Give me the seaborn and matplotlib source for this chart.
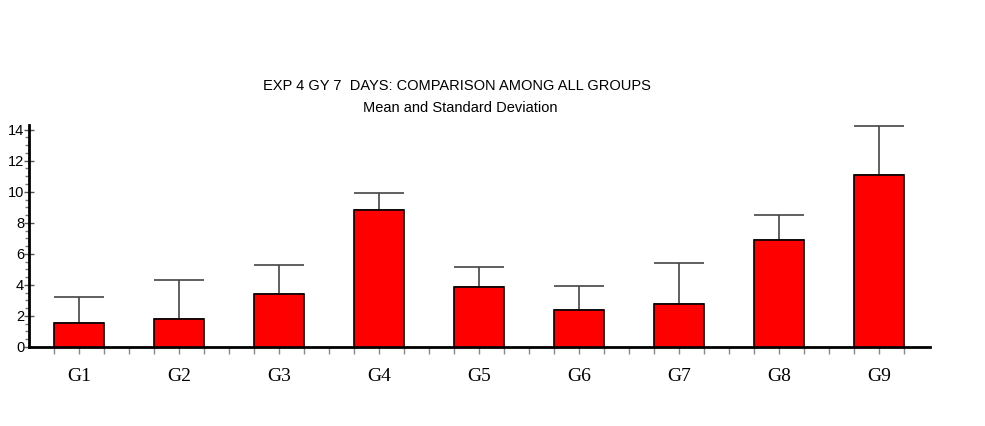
import numpy as np
import pandas as pd
import matplotlib
matplotlib.use('Agg')
import matplotlib.pyplot as plt
import seaborn as sns
from matplotlib.ticker import MultipleLocator

groups = ['G1', 'G2', 'G3', 'G4', 'G5', 'G6', 'G7', 'G8', 'G9']
means = [1.55, 1.8, 3.4, 8.8, 3.85, 2.4, 2.8, 6.9, 11.1]
upper = [3.2, 4.3, 5.3, 9.9, 5.15, 3.9, 5.4, 8.5, 14.25]
sd = [u - m for u, m in zip(upper, means)]

df = pd.DataFrame({'group': groups, 'mean': means, 'sd': sd})

sns.set_style('white')
plt.rcParams['font.family'] = ['Liberation Sans', 'DejaVu Sans']
plt.rcParams['text.color'] = 'black'
plt.rcParams['xtick.color'] = 'black'
plt.rcParams['ytick.color'] = 'black'

fig = plt.figure(figsize=(9.85, 4.26), dpi=100)
ax = fig.add_axes([29 / 985, 1 - 347 / 426, (930 - 29) / 985, (347 - 125) / 426])

sns.barplot(data=df, x='group', y='mean', color='#ff0000', edgecolor='black',
            linewidth=1.2, width=0.5, errorbar=None, saturation=1, ax=ax, zorder=3)
ax.errorbar(np.arange(len(groups)), df['mean'],
            yerr=[np.zeros(len(groups)), df['sd']],
            fmt='none', ecolor='#444444', elinewidth=1.2, capsize=18, capthick=1.2, zorder=2)

ax.set_xlim(-0.5, 8.51)
ax.set_ylim(0, 14.3)
ax.set_xlabel('')
ax.set_ylabel('')

for s in ['top', 'right']:
    ax.spines[s].set_visible(False)
for s in ['left', 'bottom']:
    ax.spines[s].set_color('black')
    ax.spines[s].set_linewidth(2)

ax.yaxis.set_major_locator(MultipleLocator(2))
ax.yaxis.set_minor_locator(MultipleLocator(0.5))
ax.tick_params(axis='y', which='major', left=True, direction='inout', length=7, width=1,
               color='#555555', labelcolor='black', labelsize=10.5, pad=0)
ax.tick_params(axis='y', which='minor', left=True, direction='out', length=3, width=1,
               color='#777777')
ax.set_xticks(np.arange(len(groups)))
ax.set_xticks(np.concatenate([np.arange(len(groups)) - 0.25, np.arange(len(groups)) + 0.25,
                              np.arange(len(groups) - 1) + 0.5]), minor=True)
ax.tick_params(axis='x', which='both', bottom=True, direction='out', length=5, width=1,
               color='#888888', labelcolor='black', pad=10)
for lbl in ax.get_xticklabels():
    lbl.set_family(['Liberation Serif', 'DejaVu Serif'])
    lbl.set_fontsize(14)

fig.text(457 / 985, 1 - 86 / 426, 'EXP 4 GY 7  DAYS: COMPARISON AMONG ALL GROUPS',
         ha='center', va='center', fontsize=10.5, color='black')
fig.text(460 / 985, 1 - 108 / 426, 'Mean and Standard Deviation',
         ha='center', va='center', fontsize=10.5, color='black')

fig.savefig('out.png', dpi=100)
